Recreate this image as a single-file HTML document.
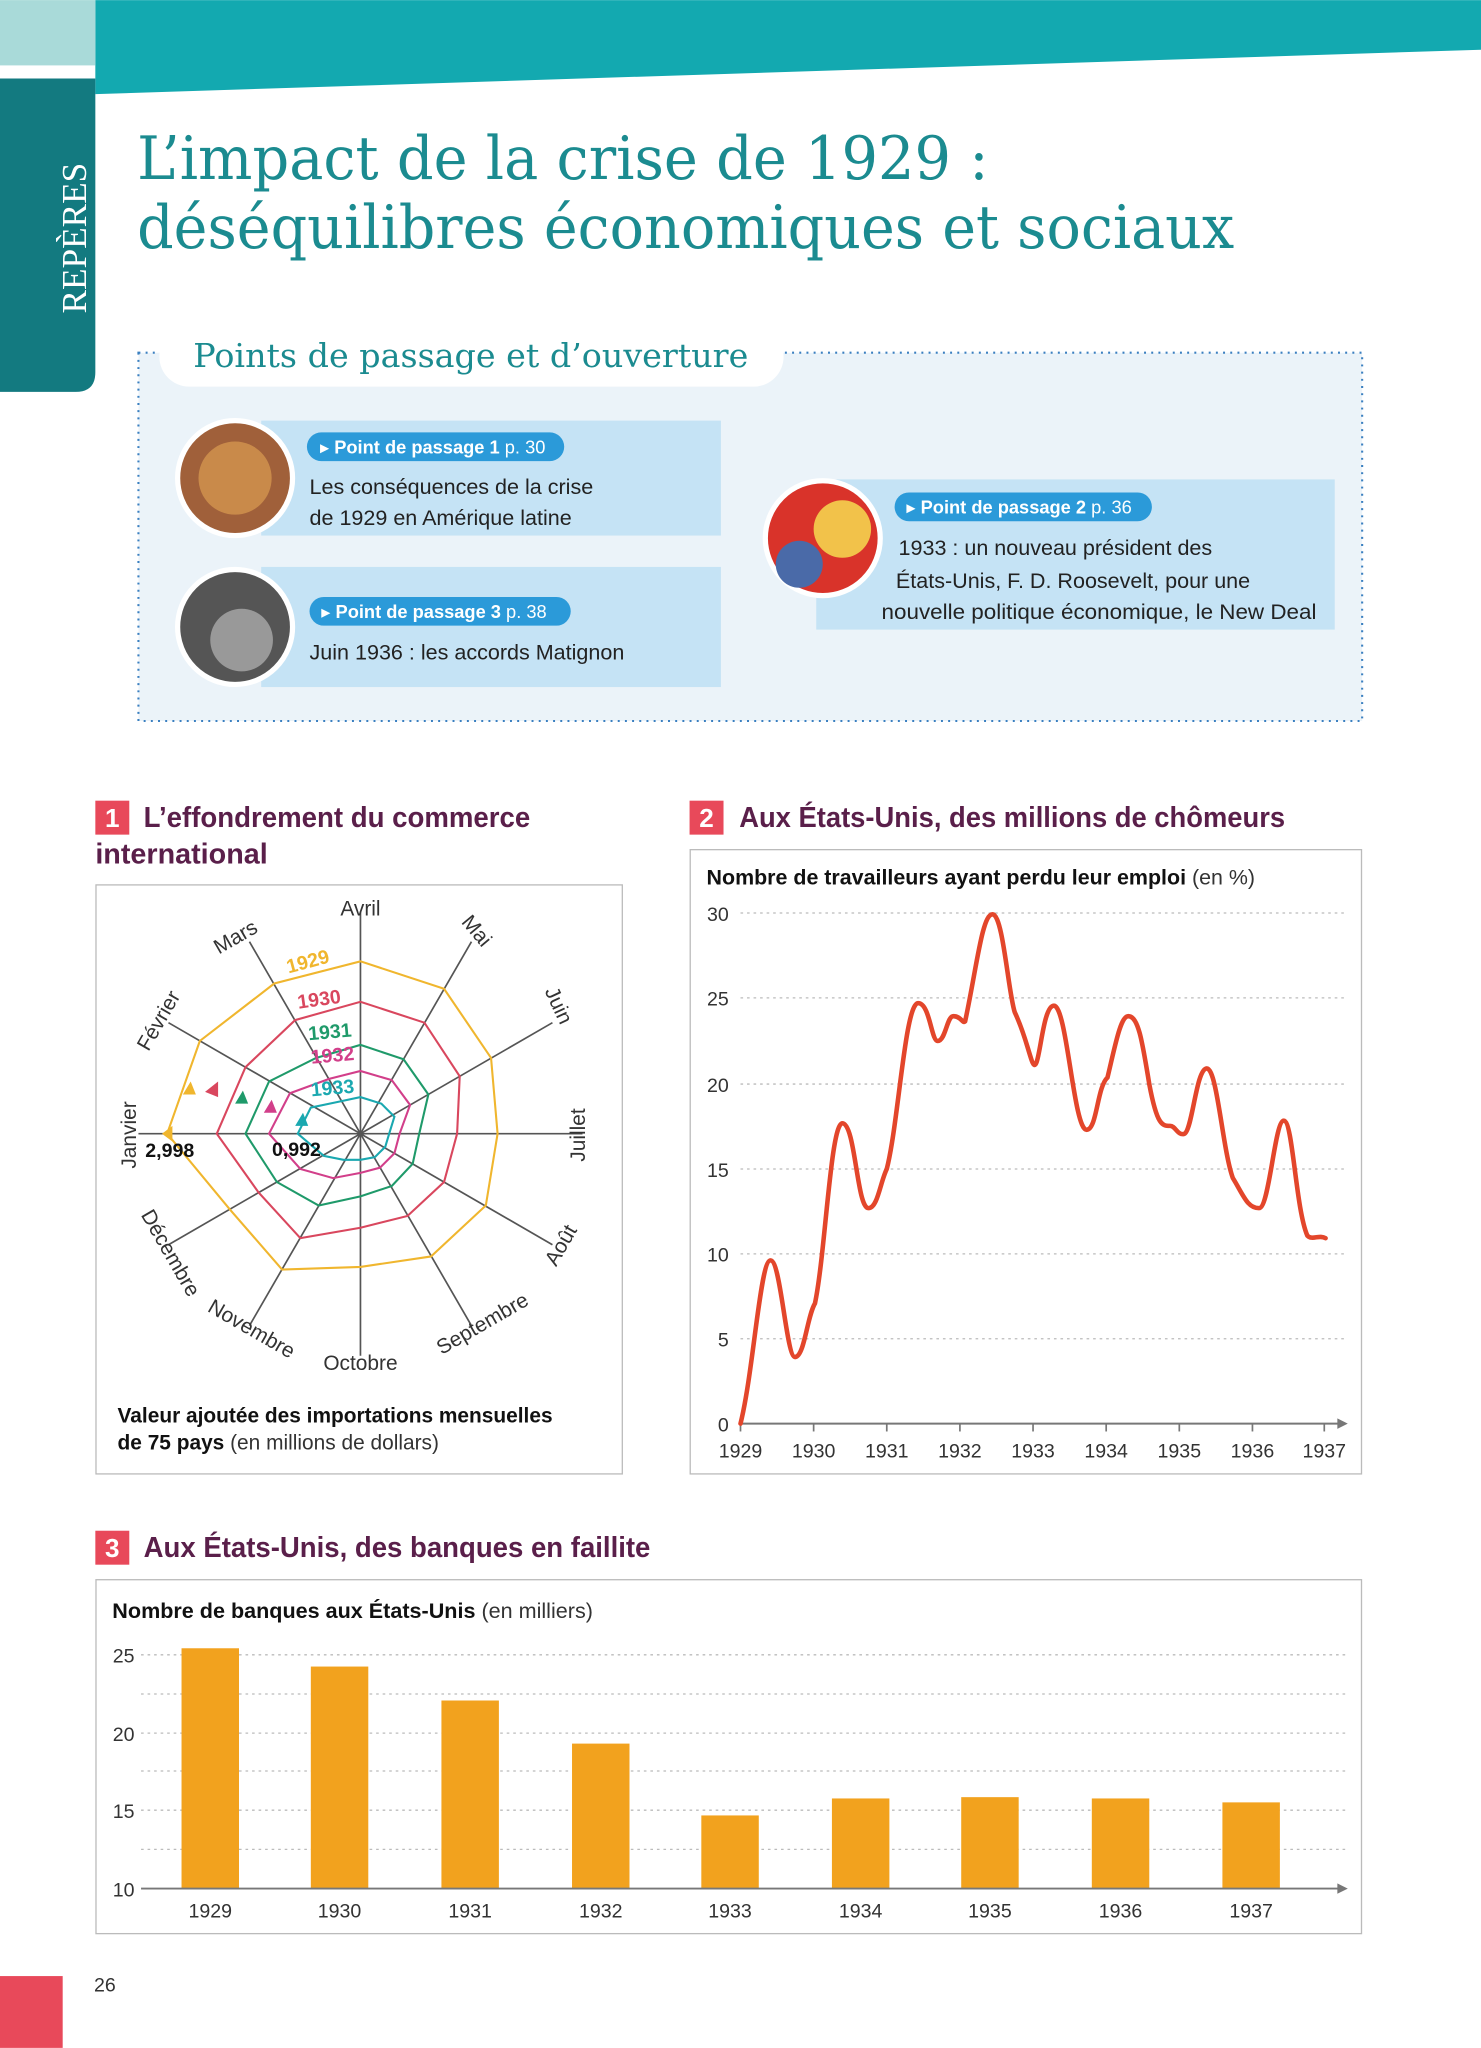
<!DOCTYPE html>
<html><head><meta charset="utf-8"><style>html,body{margin:0;padding:0;background:#fff}svg{display:block}</style></head>
<body>
<svg width="1481" height="2048" viewBox="0 0 1134 1568" xmlns="http://www.w3.org/2000/svg" font-family="Liberation Sans, DejaVu Sans, sans-serif">
<rect width="1134" height="1568" fill="#fff"/>
<polygon points="73,0 1134,0 1134,38 73,72" fill="#13a9b0"/>
<rect x="0" y="0" width="73" height="50" fill="#a9dad9"/>
<path d="M0,60 H73 V285 Q73,300 58,300 H0 Z" fill="#137a80"/>
<text transform="translate(66,240) rotate(-90)" font-family="Liberation Serif, serif" font-size="27" fill="#fff">REPÈRES</text>
<text x="105" y="137" font-family="DejaVu Serif, serif" font-size="46" fill="#1b8b90" textLength="652" lengthAdjust="spacingAndGlyphs">L’impact de la crise de 1929 :</text>
<text x="105" y="190" font-family="DejaVu Serif, serif" font-size="46" fill="#1b8b90" textLength="840" lengthAdjust="spacingAndGlyphs">déséquilibres économiques et sociaux</text>

<rect x="106" y="270" width="937" height="282" fill="#ebf3f9" stroke="#3a7fc0" stroke-width="1.6" stroke-dasharray="1.5,4"/>
<rect x="122" y="250" width="478" height="46" rx="23" fill="#fff"/>
<text x="148" y="281" font-family="DejaVu Serif, serif" font-size="25" fill="#1b8b90" textLength="425" lengthAdjust="spacingAndGlyphs">Points de passage et d’ouverture</text>

<rect x="200" y="322" width="352" height="88" fill="#c5e3f5"/>
<rect x="200" y="434" width="352" height="92" fill="#c5e3f5"/>
<rect x="625" y="367" width="397" height="115" fill="#c5e3f5"/>
<circle cx="180" cy="366" r="44" fill="#a0603a" stroke="#fff" stroke-width="4"/>
<circle cx="180" cy="366" r="28" fill="#c98a4a"/>
<circle cx="180" cy="480" r="44" fill="#555" stroke="#fff" stroke-width="4"/>
<circle cx="185" cy="490" r="24" fill="#999"/>
<circle cx="630" cy="412" r="44" fill="#d9332a" stroke="#fff" stroke-width="4"/>
<circle cx="645" cy="405" r="22" fill="#f2c24a"/>
<circle cx="612" cy="432" r="18" fill="#4a6aa8"/>
<rect x="235" y="331" width="197" height="22" rx="11" fill="#2b9ad9"/>
<text x="245" y="347" font-size="14" fill="#fff"><tspan font-weight="bold">▸ Point de passage 1</tspan> p. 30</text>
<text x="237" y="378" font-size="16.5" fill="#222">Les conséquences de la crise</text>
<text x="237" y="402" font-size="16.5" fill="#222">de 1929 en Amérique latine</text>
<rect x="237" y="457" width="200" height="22" rx="11" fill="#2b9ad9"/>
<text x="246" y="473" font-size="14" fill="#fff"><tspan font-weight="bold">▸ Point de passage 3</tspan> p. 38</text>
<text x="237" y="505" font-size="16.5" fill="#222">Juin 1936 : les accords Matignon</text>
<rect x="685" y="377" width="197" height="22" rx="11" fill="#2b9ad9"/>
<text x="694" y="393" font-size="14" fill="#fff"><tspan font-weight="bold">▸ Point de passage 2</tspan> p. 36</text>
<text x="688" y="425" font-size="16.5" fill="#222">1933 : un nouveau président des</text>
<text x="686" y="450" font-size="16.5" fill="#222">États-Unis, F. D. Roosevelt, pour une</text>
<text x="675" y="474" font-size="16.5" fill="#222" textLength="333" lengthAdjust="spacingAndGlyphs">nouvelle politique économique, le New Deal</text>

<!-- section 1 -->
<rect x="73" y="613" width="26" height="26" fill="#e8495a"/>
<text x="86" y="633" font-size="20" font-weight="bold" fill="#fff" text-anchor="middle">1</text>
<text x="110" y="633" font-size="22" font-weight="bold" fill="#5a1f4a" textLength="296" lengthAdjust="spacingAndGlyphs">L’effondrement du commerce</text>
<text x="73" y="661" font-size="22" font-weight="bold" fill="#5a1f4a" textLength="132" lengthAdjust="spacingAndGlyphs">international</text>
<rect x="73.5" y="677.5" width="403" height="451" fill="#fff" stroke="#bbb"/>
<g id="radar">
<g stroke="#555" stroke-width="1.3">
<line x1="106" y1="868" x2="446" y2="868"/><line x1="276" y1="698" x2="276" y2="1038"/>
<line x1="129" y1="783" x2="423" y2="953"/><line x1="129" y1="953" x2="423" y2="783"/>
<line x1="191" y1="721" x2="361" y2="1015"/><line x1="191" y1="1015" x2="361" y2="721"/>
</g>
<g fill="none" stroke-width="1.6">
<polygon stroke="#f0b62e" points="128,868 153,797 210,753 276,736 340,757 376,810 381,868 372,923 330,962 276,970 216,972 176,926"/>
<polygon stroke="#d9475e" points="166,868 188,817 226,781 276,767 325,783 352,824 350,868 340,905 312,931 276,940 230,948 198,913"/>
<polygon stroke="#1f9a6a" points="188,868 206,828 242,810 276,800 309,811 328,838 321,868 316,891 300,908 276,916 244,923 212,905"/>
<polygon stroke="#d23f8a" points="206,868 222,837 252,826 276,820 300,827 314,846 306,868 302,883 291,894 276,898 255,902 230,895"/>
<polygon stroke="#1aa8b0" points="228,868 238,848 257,844 276,840 292,845 302,855 298,868 295,878 287,886 276,888 263,888 248,885"/>
</g>
<polygon points="140,838 150,838 146,828" fill="#f0b62e"/>
<polygon points="160,806 170,810 170,798" fill="#d9475e" transform="translate(-3,30)"/>
<polygon points="180,845 190,845 186,835" fill="#1f9a6a"/>
<polygon points="202,852 212,852 208,842" fill="#d23f8a"/>
<polygon points="226,862 236,862 232,852" fill="#1aa8b0"/>
<polygon points="124,868 132,862 132,874" fill="#f0b62e"/>
<g font-size="16" fill="#333" text-anchor="middle">
<text x="276" y="701">Avril</text>
<text transform="translate(361,716) rotate(50)">Mai</text>
<text transform="translate(423,772) rotate(65)">Juin</text>
<text transform="translate(448,869) rotate(-90)">Juillet</text>
<text transform="translate(434,956) rotate(-60)">Août</text>
<text transform="translate(372,1018) rotate(-30)">Septembre</text>
<text x="276" y="1049">Octobre</text>
<text transform="translate(190,1022) rotate(30)">Novembre</text>
<text transform="translate(126,962) rotate(60)">Décembre</text>
<text transform="translate(104,869) rotate(-90)">Janvier</text>
<text transform="translate(126,784) rotate(-60)">Février</text>
<text transform="translate(183,722) rotate(-30)">Mars</text>
</g>
<g font-size="15" font-weight="bold" text-anchor="middle">
<text transform="translate(237,741) rotate(-15)" fill="#f0b62e">1929</text>
<text transform="translate(245,770) rotate(-8)" fill="#d9475e">1930</text>
<text transform="translate(253,795) rotate(-5)" fill="#1f9a6a">1931</text>
<text transform="translate(255,813) rotate(-5)" fill="#d23f8a">1932</text>
<text transform="translate(255,838) rotate(-5)" fill="#1aa8b0">1933</text>
<text x="130" y="886" fill="#111">2,998</text>
<text x="227" y="885" fill="#111">0,992</text>
</g>
</g>
<text x="90" y="1089" font-size="16" font-weight="bold" fill="#111">Valeur ajoutée des importations mensuelles</text>
<text x="90" y="1110" font-size="16" fill="#333"><tspan font-weight="bold" fill="#111">de 75 pays</tspan> (en millions de dollars)</text>

<!-- section 2 -->
<rect x="528" y="613" width="26" height="26" fill="#e8495a"/>
<text x="541" y="633" font-size="20" font-weight="bold" fill="#fff" text-anchor="middle">2</text>
<text x="566" y="633" font-size="22" font-weight="bold" fill="#5a1f4a" textLength="418" lengthAdjust="spacingAndGlyphs">Aux États-Unis, des millions de chômeurs</text>
<rect x="528.5" y="650.5" width="514" height="478" fill="#fff" stroke="#bbb"/>
<text x="541" y="677" font-size="16" fill="#333" textLength="420" lengthAdjust="spacingAndGlyphs"><tspan font-weight="bold" fill="#111">Nombre de travailleurs ayant perdu leur emploi</tspan> (en %)</text>
<g stroke="#bbb" stroke-dasharray="2,3" stroke-width="1">
<line x1="567" y1="699" x2="1030" y2="699"/><line x1="567" y1="764" x2="1030" y2="764"/><line x1="567" y1="830" x2="1030" y2="830"/>
<line x1="567" y1="895" x2="1030" y2="895"/><line x1="567" y1="960" x2="1030" y2="960"/><line x1="567" y1="1025" x2="1030" y2="1025"/>
</g>
<g font-size="15" fill="#333" text-anchor="end">
<text x="558" y="705">30</text><text x="558" y="770">25</text><text x="558" y="836">20</text><text x="558" y="901">15</text><text x="558" y="966">10</text><text x="558" y="1031">5</text><text x="558" y="1096">0</text>
</g>
<line x1="567" y1="1090" x2="1028" y2="1090" stroke="#777" stroke-width="1.5"/>
<polygon points="1032,1090 1024,1086 1024,1094" fill="#777"/>
<g stroke="#777" stroke-width="1.3">
<line x1="567" y1="1090" x2="567" y2="1096"/><line x1="623" y1="1090" x2="623" y2="1096"/><line x1="679" y1="1090" x2="679" y2="1096"/><line x1="735" y1="1090" x2="735" y2="1096"/><line x1="791" y1="1090" x2="791" y2="1096"/><line x1="847" y1="1090" x2="847" y2="1096"/><line x1="903" y1="1090" x2="903" y2="1096"/><line x1="959" y1="1090" x2="959" y2="1096"/><line x1="1014" y1="1090" x2="1014" y2="1096"/>
</g>
<g font-size="15" fill="#333" text-anchor="middle">
<text x="567" y="1116">1929</text><text x="623" y="1116">1930</text><text x="679" y="1116">1931</text><text x="735" y="1116">1932</text><text x="791" y="1116">1933</text><text x="847" y="1116">1934</text><text x="903" y="1116">1935</text><text x="959" y="1116">1936</text><text x="1014" y="1116">1937</text>
</g>
<path fill="none" stroke="#e3462b" stroke-width="3.5" stroke-linejoin="round" stroke-linecap="round"
d="M567,1090 C577,1050 582,965 590,965 C598,965 602,1040 609,1039 C616,1038 618,1008 624,998 C632,960 636,860 645,860 C655,860 656,925 665,925 C672,925 674,905 679,895 C688,860 693,768 703,768 C712,768 713,797 718,797 C724,797 725,778 730,778 C736,778 737,784 739,782 C748,740 752,700 760,700 C768,700 772,760 777,775 C784,790 786,800 790,812 C796,830 797,770 807,770 C817,770 822,865 832,865 C840,865 840,832 848,825 C854,800 858,778 864,778 C872,778 875,800 880,830 C886,862 890,862 896,862 C900,862 902,870 907,868 C913,865 916,818 924,818 C932,818 936,880 944,902 C952,915 955,925 964,925 C972,925 976,858 983,858 C990,858 992,925 1001,946 C1005,950 1010,945 1015,948"/>

<!-- section 3 -->
<rect x="73" y="1172" width="26" height="26" fill="#e8495a"/>
<text x="86" y="1192" font-size="20" font-weight="bold" fill="#fff" text-anchor="middle">3</text>
<text x="110" y="1192" font-size="22" font-weight="bold" fill="#5a1f4a" textLength="388" lengthAdjust="spacingAndGlyphs">Aux États-Unis, des banques en faillite</text>
<rect x="73.5" y="1209.5" width="969" height="271" fill="#fff" stroke="#bbb"/>
<text x="86" y="1239" font-size="16" fill="#333" textLength="368" lengthAdjust="spacingAndGlyphs"><tspan font-weight="bold" fill="#111">Nombre de banques aux États-Unis</tspan> (en milliers)</text>
<g stroke="#bbb" stroke-dasharray="2,3" stroke-width="1">
<line x1="108" y1="1267" x2="1030" y2="1267"/><line x1="108" y1="1297" x2="1030" y2="1297"/><line x1="108" y1="1327" x2="1030" y2="1327"/><line x1="108" y1="1356" x2="1030" y2="1356"/><line x1="108" y1="1386" x2="1030" y2="1386"/><line x1="108" y1="1416" x2="1030" y2="1416"/>
</g>
<g font-size="15" fill="#333" text-anchor="end">
<text x="103" y="1273">25</text><text x="103" y="1333">20</text><text x="103" y="1392">15</text><text x="103" y="1452">10</text>
</g>
<g fill="#f2a21e">
<rect x="139" y="1262" width="44" height="184"/><rect x="238" y="1276" width="44" height="170"/><rect x="338" y="1302" width="44" height="144"/><rect x="438" y="1335" width="44" height="111"/><rect x="537" y="1390" width="44" height="56"/><rect x="637" y="1377" width="44" height="69"/><rect x="736" y="1376" width="44" height="70"/><rect x="836" y="1377" width="44" height="69"/><rect x="936" y="1380" width="44" height="66"/>
</g>
<line x1="108" y1="1446" x2="1028" y2="1446" stroke="#777" stroke-width="1.5"/>
<polygon points="1032,1446 1024,1442 1024,1450" fill="#777"/>
<g font-size="15" fill="#333" text-anchor="middle">
<text x="161" y="1468">1929</text><text x="260" y="1468">1930</text><text x="360" y="1468">1931</text><text x="460" y="1468">1932</text><text x="559" y="1468">1933</text><text x="659" y="1468">1934</text><text x="758" y="1468">1935</text><text x="858" y="1468">1936</text><text x="958" y="1468">1937</text>
</g>

<rect x="0" y="1513" width="48" height="55" fill="#e8495a"/>
<text x="72" y="1525" font-size="15" fill="#333">26</text>
</svg>
</body></html>
